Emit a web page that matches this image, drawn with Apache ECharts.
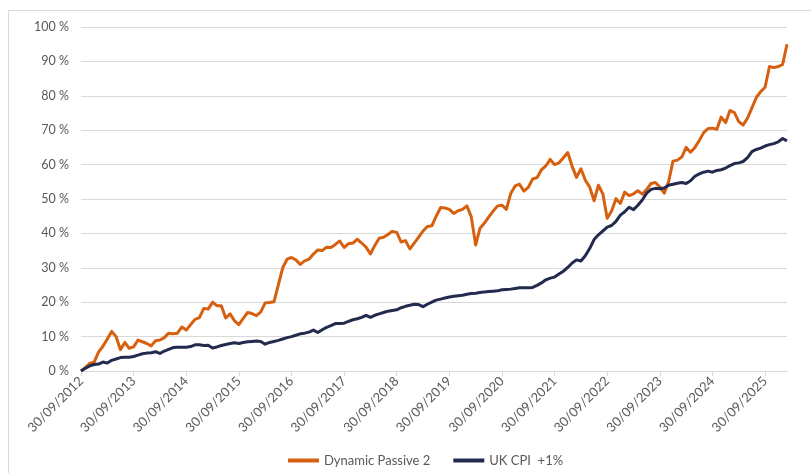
<!DOCTYPE html>
<html>
<head>
<meta charset="utf-8">
<script src="https://cdn.jsdelivr.net/npm/echarts@6/dist/echarts.min.js"></script>
<style>
html,body{margin:0;padding:0;background:#fff;}
#chart{width:811px;height:473px;}
</style>
</head>
<body>
<div id="chart"></div>
<script>
// Month-end categories from 30/09/2012 (162 monthly points)
var startYear = 2012, startMonth = 9, monthCount = 162;
var seriesNames = ['Dynamic Passive 2', 'UK CPI  +1%'];
var yTicks = [0, 10, 20, 30, 40, 50, 60, 70, 80, 90, 100];

var dynamicPassive2 = [
  0, 1.0, 2.2, 2.6, 5.5, 7.2, 9.3, 11.5, 10.0, 6.2, 8.3, 6.6,
  7.0, 9.0, 8.5, 8.0, 7.3, 8.8, 9.0, 9.7, 11.0, 10.8, 11.0, 12.8,
  11.9, 13.5, 15.0, 15.5, 18.2, 18.0, 20.0, 19.0, 19.0, 15.4, 16.6, 14.6,
  13.5, 15.3, 17.0, 16.7, 16.1, 17.2, 19.8, 19.9, 20.1, 25.0, 30.0, 32.5,
  33.0, 32.3, 31.0, 32.0, 32.5, 34.0, 35.2, 35.0, 36.0, 35.9, 36.8, 37.8,
  35.9, 37.0, 37.2, 38.3, 37.2, 36.0, 34.0, 36.5, 38.6, 38.9, 39.7, 40.6,
  40.3, 37.5, 37.9, 35.5, 37.2, 38.9, 40.7, 42.0, 42.2, 45.0, 47.5, 47.4,
  47.0, 45.8, 46.6, 47.0, 48.0, 44.8, 36.6, 41.5, 43.0, 44.8, 46.5, 48.0,
  48.2, 47.0, 51.6, 53.8, 54.3, 52.3, 53.4, 55.8, 56.2, 58.5, 59.6, 61.5,
  60.0, 60.5, 62.0, 63.5, 59.5, 56.3, 58.8, 55.5, 53.5, 49.5, 54.0, 51.5,
  44.4, 46.5, 50.1, 48.7, 52.0, 51.0, 51.5, 52.4, 51.4, 52.8, 54.5, 54.8,
  53.5, 51.7, 55.0, 61.0, 61.3, 62.2, 65.0, 63.6, 65.0, 67.0, 69.3, 70.5,
  70.6, 70.3, 73.8, 72.2, 75.7, 75.1, 72.5, 71.5, 73.5, 76.5, 79.5, 81.2,
  82.5, 88.5, 88.2, 88.5, 89.1, 95.0
];

var ukCpiPlus1 = [
  0, 0.8, 1.5, 1.9, 2.0, 2.6, 2.3, 3.1, 3.5, 3.9, 4.0, 4.0,
  4.2, 4.6, 5.0, 5.2, 5.3, 5.6, 5.1, 5.8, 6.3, 6.8, 6.9, 6.9,
  6.9, 7.1, 7.6, 7.6, 7.4, 7.5, 6.7, 7.0, 7.4, 7.7, 8.0, 8.2,
  8.0, 8.3, 8.5, 8.6, 8.7, 8.6, 7.8, 8.3, 8.6, 8.9, 9.3, 9.7,
  10.0, 10.4, 10.8, 11.0, 11.3, 11.9, 11.2, 12.0, 12.7, 13.2, 13.8, 13.8,
  13.9, 14.4, 14.9, 15.2, 15.6, 16.2, 15.6, 16.2, 16.6, 17.0, 17.4, 17.6,
  17.8, 18.4, 18.8, 19.1, 19.4, 19.3, 18.7, 19.4, 20.0, 20.6, 20.9, 21.2,
  21.5, 21.7, 21.9, 22.0, 22.3, 22.5, 22.6, 22.8, 23.0, 23.1, 23.2, 23.3,
  23.6, 23.7, 23.8, 24.0, 24.2, 24.2, 24.2, 24.3, 24.9, 25.6, 26.5, 27.0,
  27.3, 28.2, 29.0, 30.1, 31.4, 32.3, 32.0, 33.5, 35.6, 38.2, 39.6, 40.7,
  41.8, 42.3, 43.5, 45.3, 46.3, 47.6, 46.9, 48.2, 49.7, 51.7, 52.8, 53.1,
  53.0, 53.2, 54.0, 54.3, 54.6, 54.8, 54.5, 55.3, 56.6, 57.3, 57.8, 58.1,
  57.8, 58.3, 58.5, 59.0, 59.7, 60.3, 60.5, 60.9, 62.0, 63.8, 64.4, 64.8,
  65.4, 65.8, 66.1, 66.6, 67.6, 66.9
];

function pad(n){ return (n < 10 ? '0' : '') + n; }
var categories = [];
for (var k = 0; k < monthCount; k++) {
  var m0 = startMonth - 1 + k;
  var y = startYear + Math.floor(m0 / 12);
  var m = (m0 % 12) + 1;
  var last = new Date(y, m, 0).getDate();
  categories.push(pad(last) + '/' + pad(m) + '/' + y);
}

var FONT = 'Lato';
var TXT = '#595959';
var chart = echarts.init(document.getElementById('chart'), null, {renderer: 'canvas'});
chart.setOption({
  animation: false,
  backgroundColor: '#ffffff',
  graphic: [{
    type: 'rect',
    shape: {x: 8.5, y: 10.5, width: 900, height: 600},
    style: {fill: 'none', stroke: '#d9d9d9', lineWidth: 1},
    silent: true
  }],
  grid: {left: 81, right: 24, top: 27, bottom: 102, containLabel: false},
  legend: {
    data: seriesNames,
    left: 283,
    top: 449,
    icon: 'rect',
    itemWidth: 31,
    itemHeight: 4,
    itemGap: 23,
    textStyle: {color: TXT, fontFamily: FONT, fontSize: 13}
  },
  xAxis: {
    type: 'category',
    data: categories,
    boundaryGap: false,
    axisLine: {lineStyle: {color: '#d9d9d9', width: 1}},
    axisTick: {show: true, interval: 11, length: 5, lineStyle: {color: '#d9d9d9'}},
    axisLabel: {
      interval: 11, rotate: 45, color: TXT, fontFamily: FONT, fontSize: 13, margin: 8
    },
    splitLine: {show: false}
  },
  yAxis: {
    type: 'value',
    min: yTicks[0],
    max: yTicks[yTicks.length - 1],
    interval: 10,
    axisLine: {show: false},
    axisTick: {show: false},
    axisLabel: {
      color: TXT, fontFamily: FONT, fontSize: 12.5, margin: 12,
      formatter: function (v) { return v + ' %'; }
    },
    splitLine: {lineStyle: {color: '#d9d9d9', width: 1}}
  },
  series: [
    {
      name: seriesNames[0], type: 'line', data: dynamicPassive2,
      showSymbol: false, symbol: 'none',
      lineStyle: {color: '#D6600F', width: 3, join: 'round'},
      itemStyle: {color: '#D6600F'}, z: 2
    },
    {
      name: seriesNames[1], type: 'line', data: ukCpiPlus1,
      showSymbol: false, symbol: 'none',
      lineStyle: {color: '#222A4E', width: 3, join: 'round'},
      itemStyle: {color: '#222A4E'}, z: 3
    }
  ]
});
</script>
</body>
</html>
